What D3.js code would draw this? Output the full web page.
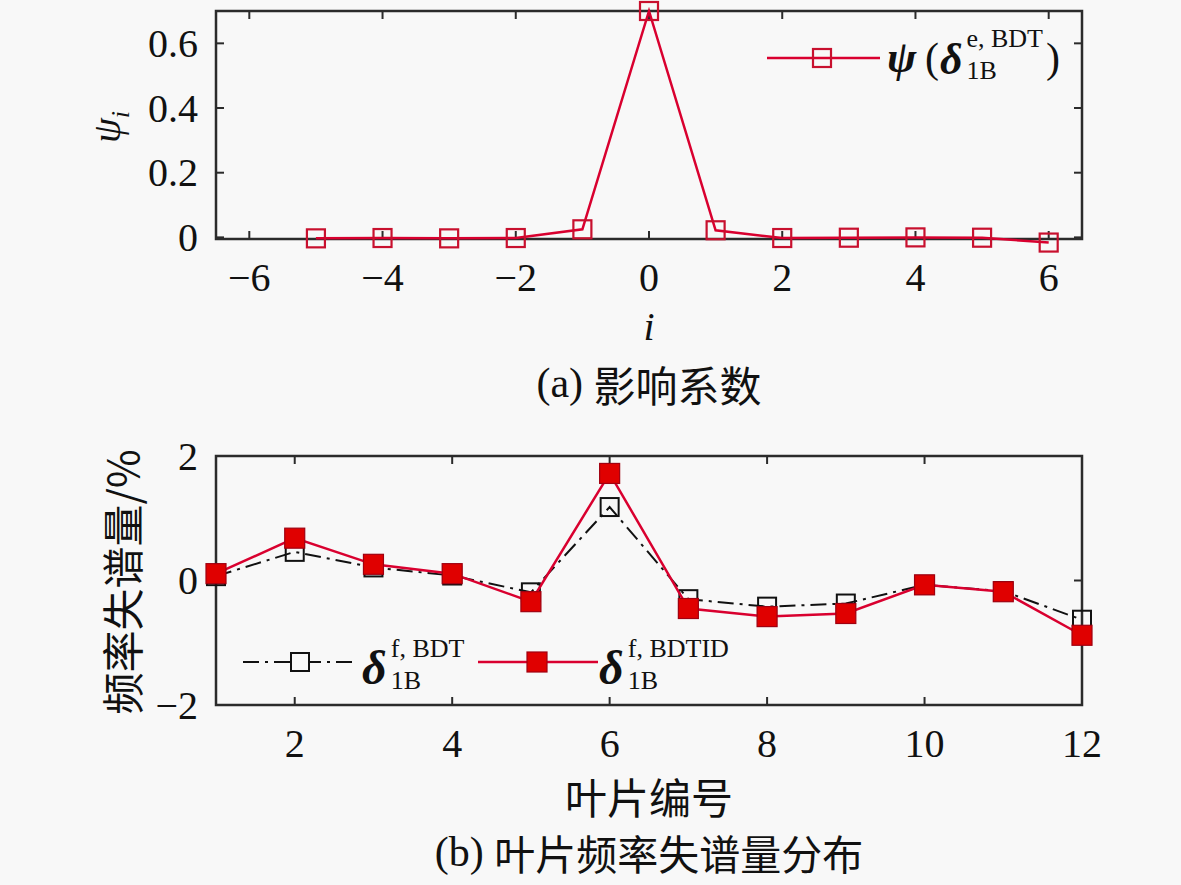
<!DOCTYPE html>
<html>
<head>
<meta charset="utf-8">
<script src="https://cdn.jsdelivr.net/npm/d3@7"></script>
<style>
    body { margin: 0; background: #f8f8f8; }
    svg { display: block; }
    text { font-family: "Liberation Serif", "DejaVu Serif", serif; fill: #111; }
    .cjk { font-family: "Noto Sans CJK SC", sans-serif; }
</style>
</head>
<body>
<svg id="chart" width="1181" height="885"></svg>
<script>
// (a) influence coefficients
var psiIndex = [-5, -4, -3, -2, -1, 0, 1, 2, 3, 4, 5, 6];
var psiValues = [-0.003, -0.002, -0.003, -0.002, 0.025, 0.70, 0.022, -0.002, -0.001, 0, -0.001, -0.016];
var psiXTicks = [-6, -4, -2, 0, 2, 4, 6];
var psiYTicks = [0, 0.2, 0.4, 0.6];

// (b) blade frequency mistuning
var bladeNo = [1, 2, 3, 4, 5, 6, 7, 8, 9, 10, 11, 12];
var mistuneBDT = [0.07, 0.46, 0.21, 0.08, -0.19, 1.18, -0.30, -0.42, -0.37, -0.07, -0.17, -0.63];
var mistuneBDTID = [0.11, 0.68, 0.26, 0.11, -0.34, 1.72, -0.45, -0.58, -0.53, -0.07, -0.18, -0.88];
var bladeXTicks = [2, 4, 6, 8, 10, 12];
var bladeYTicks = [-2, 0, 2];

var svg = d3.select("#chart");
var red = "#d9002f";
var frameColor = "#2b2b2b";

// draws a boxed axis frame with inward ticks on all four sides
function drawFrame(x, y, xTicks, yTicks, xFmt, yFmt) {
    var g = svg.append("g");
    var x0 = x.range()[0], x1 = x.range()[1];
    var y0 = y.range()[0], y1 = y.range()[1];
    var tick = 8;
    xTicks.forEach(function(t) {
        g.append("line").attr("x1", x(t)).attr("x2", x(t)).attr("y1", y0).attr("y2", y0 - tick)
            .attr("stroke", frameColor).attr("stroke-width", 2);
        g.append("line").attr("x1", x(t)).attr("x2", x(t)).attr("y1", y1).attr("y2", y1 + tick)
            .attr("stroke", frameColor).attr("stroke-width", 2);
        g.append("text").attr("x", x(t)).attr("y", y0 + 38).attr("text-anchor", "middle")
            .attr("dominant-baseline", "central").attr("font-size", 40).text(xFmt(t));
    });
    yTicks.forEach(function(t) {
        g.append("line").attr("x1", x0).attr("x2", x0 + tick).attr("y1", y(t)).attr("y2", y(t))
            .attr("stroke", frameColor).attr("stroke-width", 2);
        g.append("line").attr("x1", x1).attr("x2", x1 - tick).attr("y1", y(t)).attr("y2", y(t))
            .attr("stroke", frameColor).attr("stroke-width", 2);
        g.append("text").attr("x", x0 - 18).attr("y", y(t)).attr("text-anchor", "end")
            .attr("dominant-baseline", "central").attr("font-size", 40).text(yFmt(t));
    });
    g.append("rect").attr("x", x0).attr("y", y1).attr("width", x1 - x0).attr("height", y0 - y1)
        .attr("fill", "none").attr("stroke", frameColor).attr("stroke-width", 2.5);
    return g;
}

function numFmt(t) {
    return t < 0 ? "\u2212" + Math.abs(t) : String(t);
}

// math-ish label: bold italic symbol with stacked super/subscript
function symbolLabel(x, base, size, sym, sup, sub, supSize) {
    svg.append("text").attr("x", x).attr("y", base).attr("font-size", size)
        .attr("font-weight", "bold").attr("font-style", "italic").text(sym);
    var sx = x + size * 0.6;
    svg.append("text").attr("x", sx).attr("y", base - 27).attr("font-size", supSize).text(sup);
    svg.append("text").attr("x", sx).attr("y", base + 5).attr("font-size", supSize).text(sub);
    return sx;
}

// ---------- (a) ----------
var xa = d3.scaleLinear().domain([-6.5, 6.5]).range([216, 1082]);
var ya = d3.scaleLinear().domain([-0.005, 0.70]).range([239, 11]);
drawFrame(xa, ya, psiXTicks, psiYTicks, numFmt, function(t) { return t === 0 ? "0" : d3.format(".1f")(t); });

var lineA = d3.line().x(function(d, i) { return xa(psiIndex[i]); }).y(function(d) { return ya(d); });
svg.append("path").datum(psiValues).attr("d", lineA)
    .attr("fill", "none").attr("stroke", red).attr("stroke-width", 2.5);
svg.selectAll(".mA").data(psiValues).enter().append("rect")
    .attr("x", function(d, i) { return xa(psiIndex[i]) - 9; })
    .attr("y", function(d) { return ya(d) - 9; })
    .attr("width", 18).attr("height", 18)
    .attr("fill", "none").attr("stroke", "#c8102e").attr("stroke-width", 2.2);

// legend (a)
svg.append("line").attr("x1", 767).attr("x2", 880).attr("y1", 58).attr("y2", 58)
    .attr("stroke", red).attr("stroke-width", 2.5);
svg.append("rect").attr("x", 813).attr("y", 49).attr("width", 18).attr("height", 18)
    .attr("fill", "none").attr("stroke", "#c8102e").attr("stroke-width", 2.2);
svg.append("text").attr("x", 887).attr("y", 72).attr("font-size", 44)
    .attr("font-weight", "bold").attr("font-style", "italic").text("\u03c8");
svg.append("text").attr("x", 925).attr("y", 72).attr("font-size", 42).text("(");
symbolLabel(940, 74, 44, "\u03b4", "e, BDT", "1B", 26);
svg.append("text").attr("x", 1046).attr("y", 72).attr("font-size", 42).text(")");

svg.append("text").attr("transform", "translate(120,127) rotate(-90)")
    .attr("text-anchor", "middle").attr("font-size", 40).attr("font-style", "italic")
    .html("\u03c8<tspan font-size='26' dy='9'>i</tspan>");
svg.append("text").attr("x", 649).attr("y", 326).attr("text-anchor", "middle")
    .attr("dominant-baseline", "central").attr("font-size", 40).attr("font-style", "italic").text("i");
var capA = svg.append("text").attr("x", 649).attr("y", 383).attr("text-anchor", "middle")
    .attr("dominant-baseline", "central").attr("font-size", 42);
capA.append("tspan").text("(a) ");
capA.append("tspan").attr("class", "cjk").attr("font-size", 42).text("影响系数");

// ---------- (b) ----------
var xb = d3.scaleLinear().domain([1, 12]).range([216, 1082]);
var yb = d3.scaleLinear().domain([-2, 2]).range([705, 456]);
drawFrame(xb, yb, bladeXTicks, bladeYTicks, numFmt, numFmt);

var lineB = d3.line().x(function(d, i) { return xb(bladeNo[i]); }).y(function(d) { return yb(d); });
svg.append("path").datum(mistuneBDT).attr("d", lineB)
    .attr("fill", "none").attr("stroke", "#111").attr("stroke-width", 2)
    .attr("stroke-dasharray", "16,6,3,6");
svg.selectAll(".mB1").data(mistuneBDT).enter().append("rect")
    .attr("x", function(d, i) { return xb(bladeNo[i]) - 9; })
    .attr("y", function(d) { return yb(d) - 9; })
    .attr("width", 18).attr("height", 18)
    .attr("fill", "none").attr("stroke", "#111").attr("stroke-width", 2);
svg.append("path").datum(mistuneBDTID).attr("d", lineB)
    .attr("fill", "none").attr("stroke", red).attr("stroke-width", 2.5);
svg.selectAll(".mB2").data(mistuneBDTID).enter().append("rect")
    .attr("x", function(d, i) { return xb(bladeNo[i]) - 10; })
    .attr("y", function(d) { return yb(d) - 10; })
    .attr("width", 20).attr("height", 20)
    .attr("fill", "#e00000").attr("stroke", "#a00010").attr("stroke-width", 1.2);

// legend (b)
svg.append("line").attr("x1", 243).attr("x2", 356).attr("y1", 662).attr("y2", 662)
    .attr("stroke", "#111").attr("stroke-width", 2).attr("stroke-dasharray", "16,6,3,6");
svg.append("rect").attr("x", 291).attr("y", 653).attr("width", 18).attr("height", 18)
    .attr("fill", "#f8f8f8").attr("stroke", "#111").attr("stroke-width", 2);
svg.append("line").attr("x1", 478).attr("x2", 598).attr("y1", 662).attr("y2", 662)
    .attr("stroke", red).attr("stroke-width", 2.5);
svg.append("rect").attr("x", 527).attr("y", 652).attr("width", 20).attr("height", 20)
    .attr("fill", "#e00000").attr("stroke", "#a00010").attr("stroke-width", 1.2);

symbolLabel(362, 684, 48, "\u03b4", "f, BDT", "1B", 26);
symbolLabel(599, 684, 48, "\u03b4", "f, BDTID", "1B", 26);

svg.append("text").attr("class", "cjk").attr("transform", "translate(120,582) rotate(-90)")
    .attr("text-anchor", "middle").attr("dominant-baseline", "central").attr("font-size", 42)
    .text("频率失谱量/%");
svg.append("text").attr("class", "cjk").attr("x", 649).attr("y", 795).attr("text-anchor", "middle")
    .attr("dominant-baseline", "central").attr("font-size", 42).text("叶片编号");
var capB = svg.append("text").attr("x", 649).attr("y", 852).attr("text-anchor", "middle")
    .attr("dominant-baseline", "central").attr("font-size", 42);
capB.append("tspan").text("(b) ");
capB.append("tspan").attr("class", "cjk").attr("font-size", 41).text("叶片频率失谱量分布");
</script>
</body>
</html>
